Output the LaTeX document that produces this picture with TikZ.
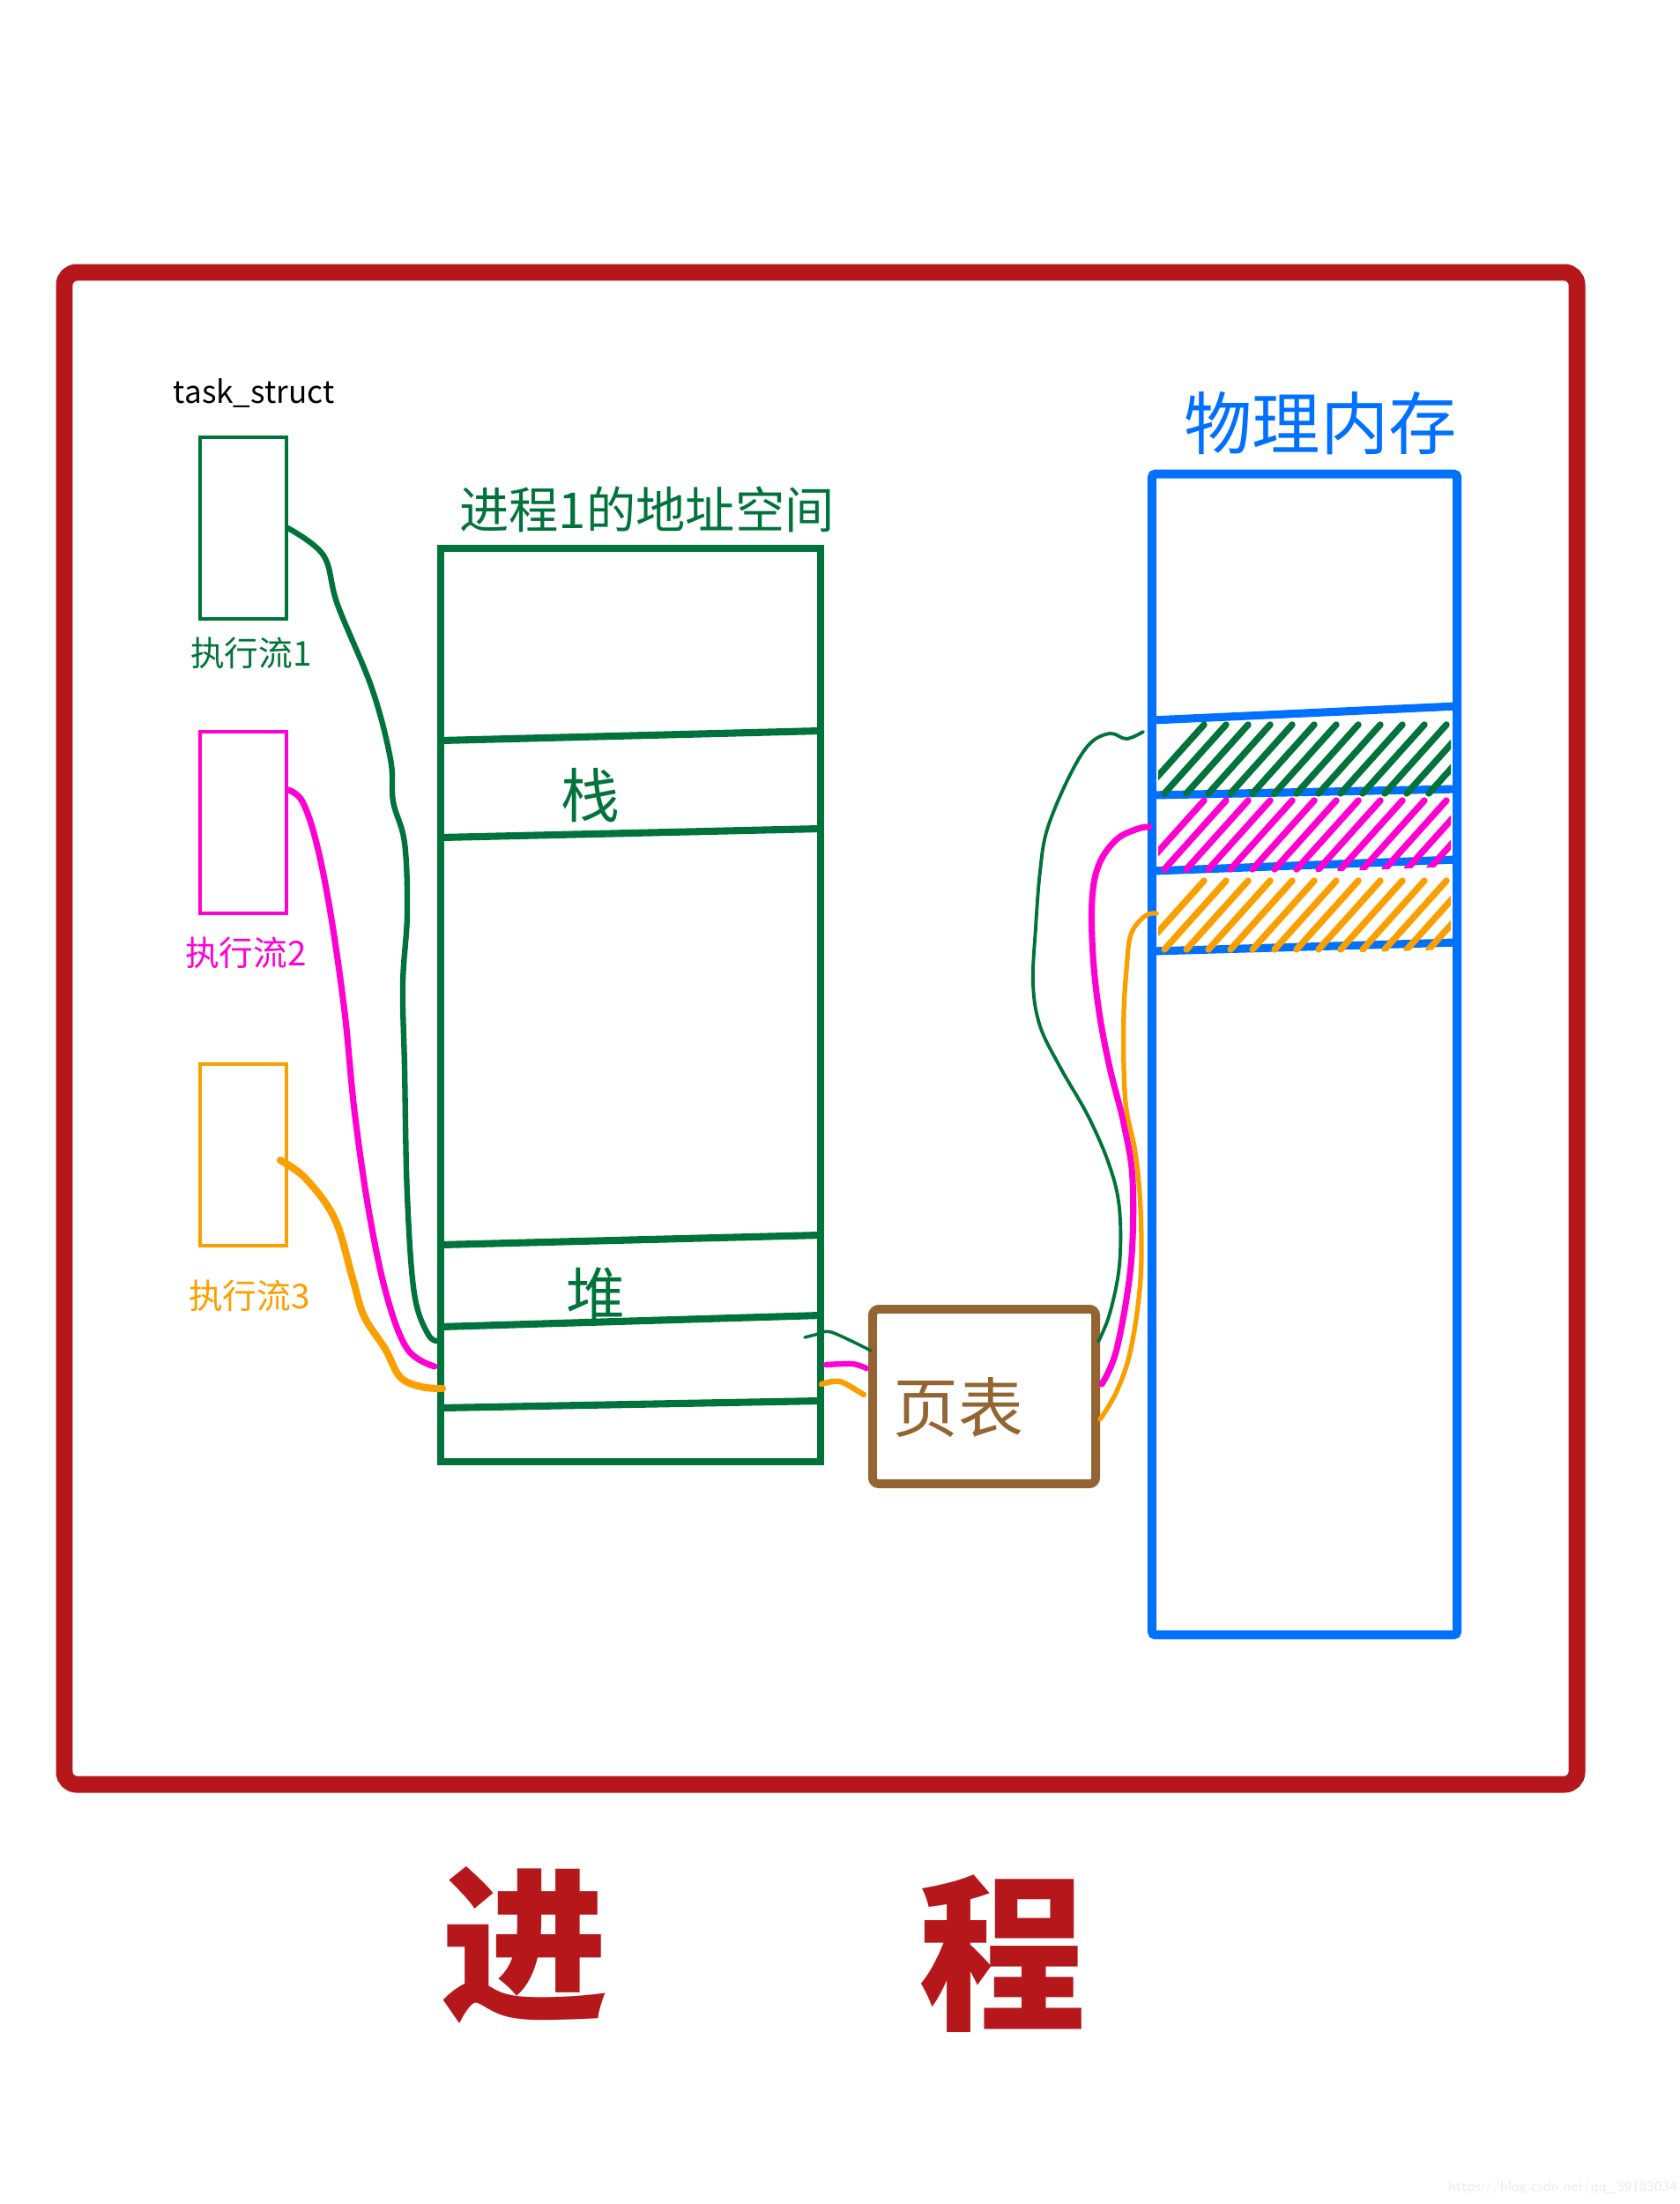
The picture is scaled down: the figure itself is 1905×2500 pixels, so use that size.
\documentclass[tikz,border=0pt]{standalone}
\usepackage{fontspec}
\newfontfamily\cjk{Noto Sans CJK SC}
\usetikzlibrary{calc}
\definecolor{cframe}{HTML}{B5171A}
\definecolor{cgreen}{HTML}{00733A}
\definecolor{cpink}{HTML}{FF00D2}
\definecolor{corange}{HTML}{FA9F00}
\definecolor{cblue}{HTML}{0070FF}
\definecolor{cbrown}{HTML}{946533}

\begin{document}
\begin{tikzpicture}[x=0.01cm,y=-0.01cm,
    tsbox/.style={draw,line width=0.9pt,minimum width=0.98cm,minimum height=2.06cm,inner sep=0pt},
    lab/.style={inner sep=0pt,font=\cjk\fontsize{11}{13}\selectfont},
    biglab/.style={inner sep=0pt,font=\cjk\fontsize{19}{22}\selectfont},
    wire/.style={line width=2pt,line cap=round,line join=round},
    hatch/.style={line width=2.1pt,line cap=round},
    bline/.style={cblue,line width=2.6pt}]
  \useasboundingbox (0,0) rectangle (1905,2500);
                      % frame
                      \draw[cframe,line width=5.4pt,rounded corners=4pt] (73,309) rectangle (1789,2024);
                      % task_struct boxes
                      \node[inner sep=0pt] (Title) at (288,446) {\cjk\fontsize{10}{12}\selectfont task\_struct};
                      \node[tsbox,cgreen] (TS1) at (276,599) {};
                      \node[tsbox,cpink] (TS2) at (276,933) {};
                      \node[tsbox,corange] (TS3) at (276,1310) {};
                      \node[lab,cgreen] (L1) at (285,741) {执行流1};
                      \node[lab,cpink] (L2) at (279,1081) {执行流2};
                      \node[lab,corange] (L3) at (283,1470) {执行流3};
                      % address space
                      \node[draw=cgreen,line width=2.3pt,minimum width=4.31cm,minimum height=10.36cm,inner sep=0pt] (AS) at (715.5,1140) {};
                      \node[biglab,cgreen,font=\cjk\fontsize{16}{19}\selectfont] (ASL) at (734,578) {进程1的地址空间};
                      \draw[cgreen,line width=2.3pt] (500,840) -- (931,829);
                      \draw[cgreen,line width=2.3pt] (500,950) -- (931,940);
                      \draw[cgreen,line width=2.3pt] (500,1412) -- (931,1401);
                      \draw[cgreen,line width=2.3pt] (500,1505) -- (931,1492);
                      \draw[cgreen,line width=2.3pt] (500,1597) -- (931,1589);
                      \node[biglab,cgreen] (Stack) at (670,902) {栈};
                      \node[biglab,cgreen] (Heap) at (676,1468) {堆};
                      % page table
                      \node[draw=cbrown,line width=2.8pt,rounded corners=2pt,minimum width=2.53cm,minimum height=1.98cm,inner sep=0pt] (PT) at (1116.5,1584) {};
                      \node[biglab,cbrown,font=\cjk\fontsize{21}{24}\selectfont] (PTL) at (1087,1597) {页表};
                      % physical memory
                      \node[draw=cblue,line width=2.8pt,rounded corners=1pt,minimum width=3.46cm,minimum height=13.16cm,inner sep=0pt] (PM) at (1480,1196) {};
                      \node[biglab,cblue,font=\cjk\fontsize{22}{26}\selectfont] (PML) at (1498,480) {物理内存};
                      \draw[bline] (1307,817) -- (1653,801);
                      \draw[bline] (1307,902) -- (1653,895);
                      \draw[bline] (1307,988) -- (1653,975);
                      \draw[bline] (1307,1079) -- (1653,1069);
                      \foreach \col/\tl/\tr/\bl/\br in {cgreen/817/801/902/895,cpink/902/895/988/975,corange/988/975/1079/1069} {
                        \begin{scope}
                          \clip (1314,\tl-12) -- (1646,\tr-12) -- (1646,\br+8) -- (1314,\bl+8) -- cycle;
                          \foreach \k in {0,...,13}
                            \draw[hatch,\col] (1296+25*\k,\bl-2) -- ++(70,-78);
                        \end{scope}
                      }
                      % end points
                      \coordinate (m0) at (327,896);
                      \coordinate (g1) at (499,1521);
                      \coordinate (m1) at (493,1550);
                      \coordinate (o1) at (502,1575);
                      \coordinate (pg0) at (913,1517);
                      \coordinate (pm0) at (937,1548);
                      \coordinate (po0) at (932,1570);
                      \coordinate (pg1) at (988,1532);
                      \coordinate (pm1) at (983,1552);
                      \coordinate (po1) at (980,1582);
                      \coordinate (rg0) at (1246,1522);
                      \coordinate (rm0) at (1250,1570);
                      \coordinate (ro0) at (1248,1610);
                      \coordinate (rg1) at (1297,830);
                      \coordinate (rm1) at (1304,938);
                      \coordinate (ro1) at (1312,1036);
                      % connectors, task_struct to address space
                      \draw[wire,cgreen,line width=1.8pt] plot[smooth,tension=0.6] coordinates {(TS1.east) (367,630) (383,686) (422,781) (443,861) (446,909) (459,956) (462,1036) (457,1116) (459,1211) (462,1355) (470,1467) (486,1514) (g1)};
                      \draw[wire,cpink] plot[smooth,tension=0.6] coordinates {(m0) (343,909) (359,956) (375,1036) (391,1148) (402,1259) (418,1371) (438,1467) (462,1530) (m1)};
                      \draw[wire,corange,line width=2.3pt] plot[smooth,tension=0.6] coordinates {(318,1316) (347,1337) (380,1383) (400,1450) (413,1493) (437,1530) (454,1562) (478,1573) (o1)};
                      % address space to page table
                      \draw[wire,cgreen,line width=1pt] plot[smooth] coordinates {(pg0) (925,1514) (943,1511) (pg1)};
                      \draw[wire,cpink,line width=1.8pt] plot[smooth] coordinates {(pm0) (967,1547) (pm1)};
                      \draw[wire,corange,line width=1.8pt] plot[smooth] coordinates {(po0) (953,1567) (po1)};
                      % page table to physical memory
                      \draw[wire,cgreen,line width=1.1pt] plot[smooth,tension=0.6] coordinates {(rg0) (1259,1490) (1270,1435) (1270,1371) (1259,1323) (1235,1267) (1203,1211) (1180,1164) (1172,1116) (1175,1052) (1180,988) (1188,941) (1211,885) (1235,845) (1259,832) (1278,838) (rg1)};
                      \draw[wire,cpink] plot[smooth,tension=0.6] coordinates {(rm0) (1267,1530) (1283,1435) (1285,1339) (1275,1275) (1259,1211) (1247,1148) (1240,1084) (1239,1020) (1247,980) (1267,952) (1291,940) (rm1)};
                      \draw[wire,corange,line width=1.5pt] plot[smooth,tension=0.6] coordinates {(ro0) (1267,1578) (1283,1530) (1294,1451) (1294,1371) (1288,1307) (1278,1259) (1275,1211) (1275,1148) (1278,1100) (1283,1060) (1299,1039) (ro1)};
                      % title
                      \node[inner sep=0pt,cframe,font=\cjk\bfseries\fontsize{54}{58}\selectfont] (Jin) at (595,2206) {进};
                      \node[inner sep=0pt,cframe,font=\cjk\bfseries\fontsize{54}{58}\selectfont] (Cheng) at (1137,2216) {程};
                      \node[inner sep=0pt,black!8,font=\sffamily\fontsize{4.6}{5}\selectfont] (Mark) at (1773,2481) {https://blog.csdn.net/qq\_39183034};
                    \end{tikzpicture}
\end{document}
